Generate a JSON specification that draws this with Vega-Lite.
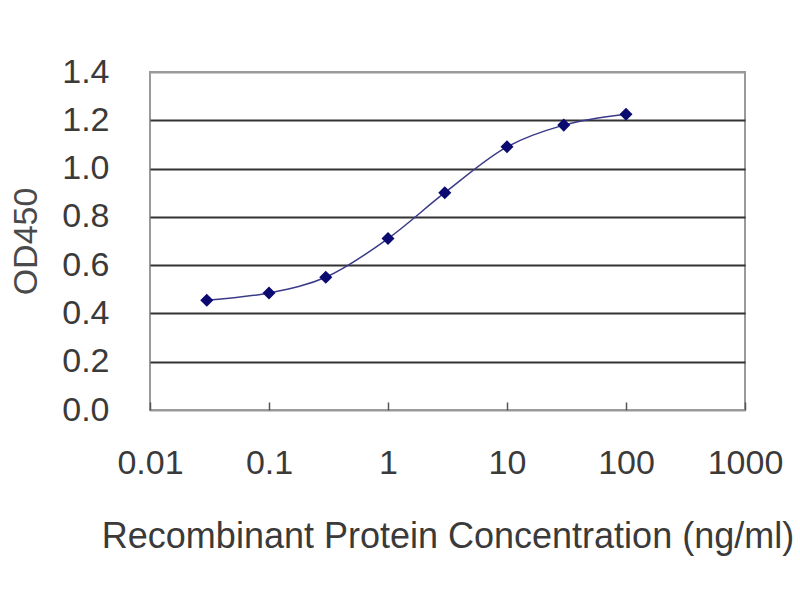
{
  "$schema": "https://vega.github.io/schema/vega-lite/v6.json",
  "width": 595,
  "height": 338,
  "autosize": "none",
  "padding": {"left": 150, "top": 72, "right": 55, "bottom": 190},
  "background": "white",
  "config": {
    "font": "Liberation Sans",
    "view": {"stroke": "#9a9a9a", "strokeWidth": 2}
  },
  "data": {
    "values": [
      {"conc": 0.03, "od": 0.455},
      {"conc": 0.1, "od": 0.485},
      {"conc": 0.3, "od": 0.55},
      {"conc": 1, "od": 0.71},
      {"conc": 3, "od": 0.9},
      {"conc": 10, "od": 1.09},
      {"conc": 30, "od": 1.18},
      {"conc": 100, "od": 1.225}
    ]
  },
  "encoding": {
    "x": {
      "field": "conc",
      "type": "quantitative",
      "scale": {"type": "log", "domain": [0.01, 1000], "nice": false},
      "axis": {
        "title": "Recombinant Protein Concentration (ng/ml)",
        "titleFontSize": 36,
        "titleFontWeight": "normal",
        "titleColor": "#3a3a3a",
        "titlePadding": 39,
        "values": [0.01, 0.1, 1, 10, 100, 1000],
        "labelExpr": "datum.value >= 1 ? format(datum.value, 'd') : (datum.value >= 0.1 ? '0.1' : '0.01')",
        "labelFontSize": 34,
        "labelColor": "#3a3a3a",
        "labelPadding": 44,
        "labelFlush": false,
        "grid": false,
        "domain": false,
        "tickSize": -8,
        "tickColor": "#555",
        "tickWidth": 1.5
      }
    },
    "y": {
      "field": "od",
      "type": "quantitative",
      "scale": {"domain": [0, 1.4], "nice": false},
      "axis": {
        "title": "OD450",
        "titleFontSize": 34,
        "titleFontWeight": "normal",
        "titleColor": "#4a4a4a",
        "titlePadding": 18,
        "values": [0, 0.2, 0.4, 0.6, 0.8, 1.0, 1.2, 1.4],
        "format": ".1f",
        "labelFontSize": 34,
        "labelColor": "#3a3a3a",
        "labelPadding": 41,
        "domain": false,
        "ticks": false,
        "grid": true,
        "gridColor": {"condition": {"test": "datum.value === 0 || datum.value === 1.4", "value": "#9a9a9a"}, "value": "#333333"},
        "gridWidth": 2
      }
    }
  },
  "layer": [
    {
      "mark": {"type": "line", "interpolate": "monotone", "color": "#3a3a8a", "strokeWidth": 1.5}
    },
    {
      "mark": {"type": "point", "shape": "diamond", "filled": true, "size": 170, "color": "#0a0a70", "opacity": 1}
    }
  ]
}
